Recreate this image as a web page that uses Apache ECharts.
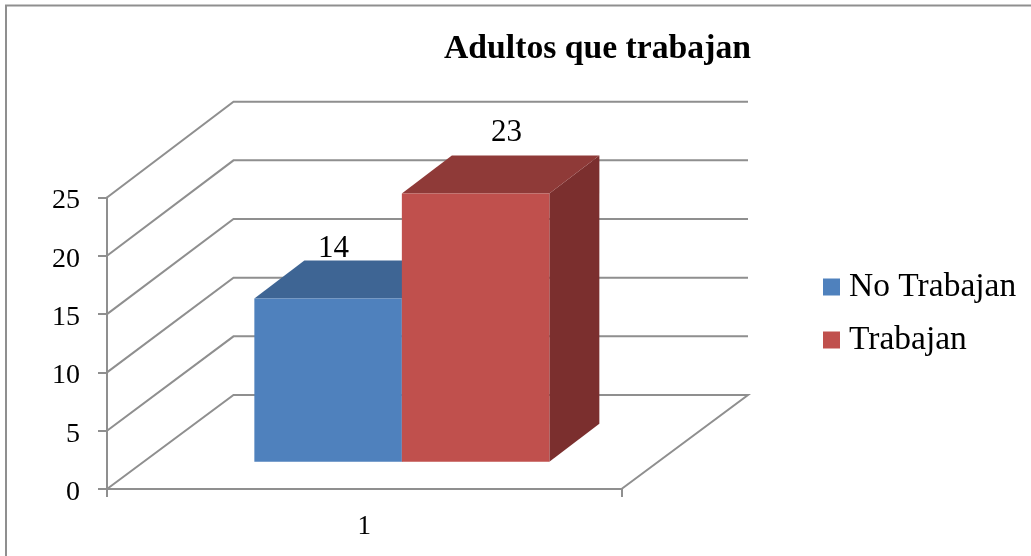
<!DOCTYPE html>
<html><head><meta charset="utf-8">
<style>html,body{margin:0;padding:0;background:#fff}#c{width:1031px;height:556px}</style>
<script src="https://cdn.jsdelivr.net/npm/echarts@6/dist/echarts.min.js"></script>
</head><body><div id="c"></div>
<script>
const categories = ['1'];
const noTrabajan = [14];
const trabajan = [23];
const yTicks = [0, 5, 10, 15, 20, 25];
const titleText = 'Adultos que trabajan';

const FONT = '"Liberation Serif", serif';
const GRID_COLOR = '#8f8f8f';
// 3D projection, expressed relative to the category band width
const WALL_DX = 126.5 / 514.5, WALL_DY = 94 / 514.5, WALL_SKEW = 1.8 / 514.5;
const FLOOR_DX = 36.4 / 514.5, FLOOR_DY = 27.3 / 514.5;
const BAR_DX = 50 / 514.5, BAR_DY = 38 / 514.5;
const BAR_W = 147.5 / 514.5;

function wallItem(params, api) {
  const v = api.value(1);
  const p = api.coord([0, v]);
  const bw = api.size([1, 0])[0];
  const x0 = p[0] - bw / 2, x1 = p[0] + bw / 2;
  const dx = bw * WALL_DX, dy = bw * (WALL_DY + WALL_SKEW * v / 25);
  const pts = [[x0, p[1]], [x0 + dx, p[1] - dy], [x1 + dx, p[1] - dy]];
  if (v === 0) pts.push([x1, p[1]]);
  return { type: 'polyline', silent: true, shape: { points: pts },
    style: { stroke: GRID_COLOR, lineWidth: 2, fill: null } };
}

function barSeries(name, values, barIndex, colors, labelDx, labelDy) {
  return {
    name, type: 'custom', coordinateSystem: 'cartesian2d',
    itemStyle: { color: colors[0] }, z: 3,
    encode: { x: 0, y: 1 },
    data: values.map((v, i) => [i, v]),
    renderItem(params, api) {
      const v = api.value(1);
      const base = api.coord([api.value(0), 0]);
      const top = api.coord([api.value(0), v]);
      const bw = api.size([1, 0])[0];
      const w = bw * BAR_W;
      const fx = bw * FLOOR_DX, fy = bw * FLOOR_DY;
      const dx = bw * BAR_DX, dy = bw * BAR_DY;
      const l = base[0] - w + fx + w * barIndex + 1.2;
      const r = l + w, b = base[1] - fy, t = top[1] - fy;
      return { type: 'group', children: [
        { type: 'polygon', shape: { points: [[r, t], [r + dx, t - dy], [r + dx, b - dy], [r, b]] }, style: { fill: colors[2] } },
        { type: 'polygon', shape: { points: [[l, t], [l + dx, t - dy], [r + dx, t - dy], [r, t]] }, style: { fill: colors[1] } },
        { type: 'rect', shape: { x: l, y: t, width: w, height: b - t }, style: { fill: colors[0] } },
        { type: 'text', z2: 5, style: { text: String(v), x: (l + r) / 2 + labelDx, y: t + labelDy,
          font: '31px ' + FONT, fill: '#000', align: 'center', verticalAlign: 'middle' } }
      ] };
    }
  };
}

const chart = echarts.init(document.getElementById('c'), null, { renderer: 'canvas' });
chart.setOption({
  animation: false,
  backgroundColor: '#fff',
  title: { text: titleText, left: 444, top: 32, padding: 0,
    textStyle: { fontFamily: FONT, fontWeight: 'bold', fontSize: 33.7, color: '#000' } },
  legend: { orient: 'vertical', left: 823, top: 270, padding: 0, itemWidth: 17, itemHeight: 17, itemGap: 19,
    icon: 'rect', data: ['No Trabajan', 'Trabajan'],
    textStyle: { fontFamily: FONT, fontSize: 33.5, color: '#000', padding: [0, 0, 0, 4] } },
  grid: { left: 107, right: 409.5, top: 197.5, bottom: 67 },
  xAxis: { type: 'category', data: categories, boundaryGap: true,
    axisLine: { lineStyle: { color: GRID_COLOR, width: 2 } },
    axisTick: { show: true, length: 8, alignWithLabel: false, lineStyle: { color: GRID_COLOR, width: 2 } },
    axisLabel: { margin: 24, fontFamily: FONT, fontSize: 27, color: '#000' } },
  yAxis: { type: 'value', min: 0, max: 25, interval: 5,
    splitLine: { show: false },
    axisLine: { show: true, lineStyle: { color: GRID_COLOR, width: 2 } },
    axisTick: { show: true, length: 9, lineStyle: { color: GRID_COLOR, width: 2 } },
    axisLabel: { margin: 27, fontFamily: FONT, fontSize: 28, color: '#000', verticalAlign: 'top', lineHeight: 7 } },
  graphic: [
    { type: 'polyline', silent: true, shape: { points: [[6, 556], [6, 5.5], [1031, 5.5]] },
      style: { stroke: GRID_COLOR, lineWidth: 2, fill: null } }
  ],
  series: [
    { name: 'walls', type: 'custom', coordinateSystem: 'cartesian2d', silent: true, z: 1,
      encode: { x: 0, y: 1 }, data: yTicks.map(v => [0, v]), renderItem: wallItem },
    barSeries('No Trabajan', noTrabajan, 0, ['#4F81BD', '#3E6594', '#385D8A'], 5.5, -50),
    barSeries('Trabajan', trabajan, 1, ['#C0504D', '#8F3A38', '#7B2F2E'], 31, -61)
  ]
});
</script></body></html>
